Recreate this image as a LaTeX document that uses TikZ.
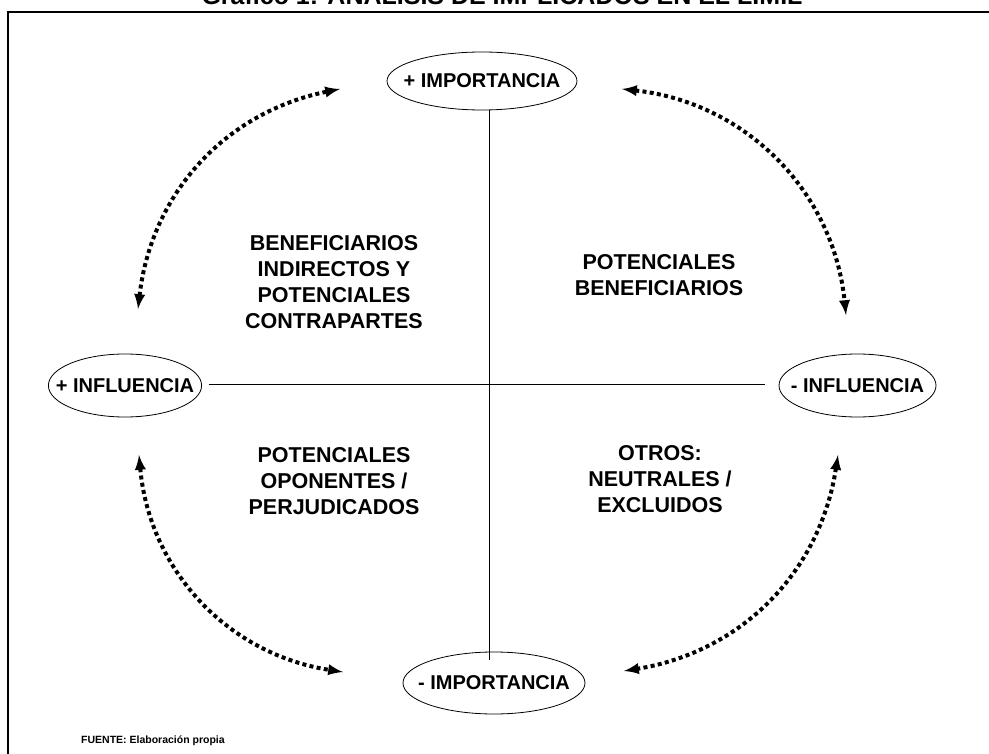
\documentclass[tikz,border=0pt]{standalone}
\usepackage{fontspec}
\setmainfont{Liberation Sans}
\usepackage{tikz}
\usetikzlibrary{shapes.geometric, positioning, arrows}
\tikzset{
polo/.style={draw, ellipse, line width=0.8pt, inner xsep=-15pt, font=\fontsize{20}{24}\selectfont\bfseries},
cuadrante/.style={align=center, font=\fontsize{21.5}{26}\selectfont\bfseries},
flecha/.style={latex-latex, line width=4pt, dash pattern=on 4pt off 3.3pt},
eje/.style={line width=0.8pt}
}

\begin{document}
\begin{tikzpicture}[x=1pt,y=-1pt]
\useasboundingbox (0,0) rectangle (989,754);
\draw[line width=2.5pt] (8,12) rectangle (1020,790); %marco
\node[anchor=base, font=\fontsize{25}{30}\selectfont\bfseries] (titulo) at (502,4.7) {Gráfico 1: ANÁLISIS DE IMPLICADOS EN EL LIMIL};
\node[polo, minimum width=190pt, minimum height=58pt] (pimp) at (482,81) {+ IMPORTANCIA};
\node[polo, minimum width=182pt, minimum height=62pt] (mimp) at (494,683) {- IMPORTANCIA};
\node[polo, minimum width=150pt, minimum height=63pt] (pinf) at (125,385.5) {+ INFLUENCIA};
\node[polo, minimum width=157pt, minimum height=63pt] (minf) at (857.5,385.5) {- INFLUENCIA};
\coordinate (centro) at (489,384);
\draw[eje, shorten >=-8pt] (pimp.south -| centro) -- (mimp.north -| centro);
\draw[eje, shorten <=7pt, shorten >=14pt] (pinf.east |- centro) -- (minf.west |- centro);
% flechas punteadas
\coordinate (a1) at (138,309);
\coordinate (a2) at (340,89);
\coordinate (b1) at (622,89);
\coordinate (b2) at (846,315);
\coordinate (c1) at (838,455);
\coordinate (c2) at (624,671);
\coordinate (d1) at (139,455);
\coordinate (d2) at (343,672);
\draw[flecha] (a1) to[bend left=36] (a2);
\draw[flecha] (b1) to[bend left=39] (b2);
\draw[flecha] (c1) to[bend left=36] (c2);
\draw[flecha] (d1) to[bend right=38] (d2);
\node[cuadrante] (benef) at (334,282) {BENEFICIARIOS\\INDIRECTOS Y\\POTENCIALES\\CONTRAPARTES};
\node[cuadrante] (potben) at (659,275) {POTENCIALES\\BENEFICIARIOS};
\node[cuadrante] (opon) at (334,481) {POTENCIALES\\OPONENTES /\\PERJUDICADOS};
\node[cuadrante] (otros) at (660,479) {OTROS:\\NEUTRALES /\\EXCLUIDOS};
\node[anchor=west, inner sep=0pt, font=\fontsize{10.5}{12}\selectfont\bfseries] (fuente) at (81,741) {FUENTE: Elaboración propia};
\end{tikzpicture}
\end{document}
